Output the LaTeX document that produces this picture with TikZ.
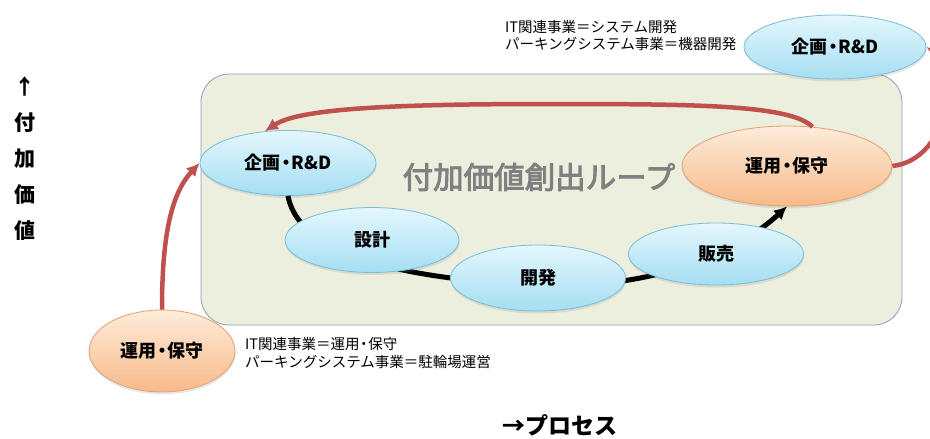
\documentclass[tikz,border=0pt]{standalone}
\usepackage{fontspec}
\setmainfont{Noto Sans CJK JP}
\newfontfamily\titlefont{Noto Sans CJK JP}[FakeBold=3]
\usetikzlibrary{shapes.geometric,arrows.meta,shadows}
\definecolor{boxfill}{RGB}{236,238,222}
\definecolor{boxline}{RGB}{140,160,180}
\definecolor{bluetop}{RGB}{228,247,253}
\definecolor{bluebot}{RGB}{165,222,242}
\definecolor{blueline}{RGB}{120,190,215}
\definecolor{ortop}{RGB}{253,236,218}
\definecolor{orbot}{RGB}{248,186,138}
\definecolor{orline}{RGB}{228,160,110}
\definecolor{redarr}{RGB}{192,80,77}
\definecolor{titlegray}{RGB}{128,128,128}
\newcommand{\ndot}{\kern-0.2em・\kern-0.2em}
\tikzset{
  ellbase/.style={ellipse, inner sep=0pt, line width=0.8pt,
    drop shadow={opacity=0.18, shadow xshift=0.5pt, shadow yshift=-2.5pt},
    font=\fontsize{18}{20}\selectfont\bfseries},
  blueell/.style={ellbase, draw=blueline, top color=bluetop, bottom color=bluebot},
  orell/.style={ellbase, draw=orline, top color=ortop, bottom color=orbot},
  redarrow/.style={draw=redarr, line width=4.5pt, -{Latex[length=13pt,width=13pt]}},
  blackarrow/.style={draw=black, line width=5pt, -{Latex[length=13pt,width=13pt]}},
  smalltext/.style={align=left, inner sep=0pt, font=\fontsize{14.5}{17.5}\selectfont},
  axistext/.style={inner sep=0pt, font=\fontsize{21}{36}\selectfont\bfseries, align=center}
}
\begin{document}
\begin{tikzpicture}[x=1pt,y=-1pt]
\useasboundingbox (0,0) rectangle (930,439);
\fill[white] (0,0) rectangle (930,439);
% loop box
\node (loop) [draw=boxline, fill=boxfill, rounded corners=28pt, line width=0.8pt,
  minimum width=701pt, minimum height=251pt, inner sep=0pt] at (551.5,199.5) {};
\node (title) [text=titlegray, font=\fontsize{30.5}{32}\titlefont, inner sep=0pt] at (539,177) {付加価値創出ループ};
% black process curve (behind ellipses)
\coordinate (mid) at (538,285);
% ellipses
\node (kiR) [blueell, minimum width=176pt, minimum height=65pt] at (288,163) {企画\ndot R\&D};
\node (unyo) [orell, minimum width=210pt, minimum height=80pt] at (787,166) {運用\ndot 保守};
\draw[blackarrow] (kiR.south) .. controls (300,260) and (420,280) .. (mid)
   .. controls (660,290) and (740,250) .. (unyo.south);
\node (sekkei) [blueell, minimum width=174pt, minimum height=65pt] at (372,240) {設計};
\node (kaihatsu) [blueell, minimum width=175pt, minimum height=66pt] at (538,278) {開発};
\node (hanbai) [blueell, minimum width=175pt, minimum height=62pt] at (716,254) {販売};
\node (kiTop) [blueell, minimum width=182pt, minimum height=64pt] at (835,47) {企画\ndot R\&D};
\node (unyoBL) [orell, minimum width=146pt, minimum height=82pt] at (162,351) {運用\ndot 保守};
% red arrows
\draw[redarrow] (unyoBL.north) .. controls (162,240) and (170,195) .. (kiR.west);
\draw[redarrow] (unyo.57) .. controls (790,105) and (700,104) .. (550,104)
   .. controls (400,104) and (300,108) .. (kiR.126);
\draw[redarrow] (unyo.east) .. controls (948,160) and (962,70) .. (kiTop.east);
% texts
\node (topnote) [smalltext, anchor=west] at (505,35.5) {IT関連事業＝システム開発\\パーキングシステム事業＝機器開発};
\node (botnote) [smalltext, anchor=west] at (245,353) {IT関連事業＝運用\kern-0.2em・\kern-0.2em 保守\\パーキングシステム事業＝駐輪場運営};
\node (vaxis) [axistext] at (25,159) {↑\\付\\加\\価\\値};
\node (haxis) [inner sep=0pt, font=\fontsize{23}{26}\selectfont\bfseries] at (560,425) {→プロセス};
\end{tikzpicture}
\end{document}
